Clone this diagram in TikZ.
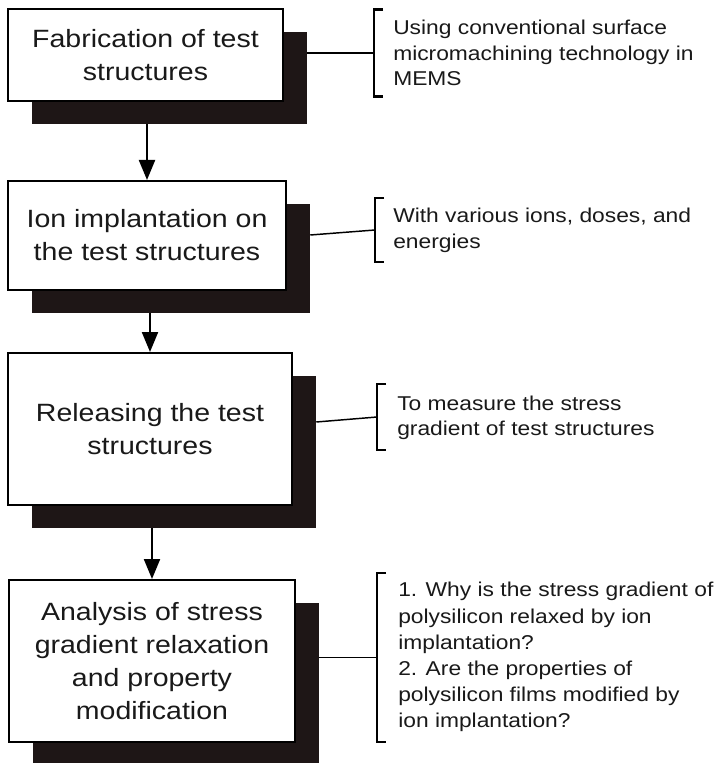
\documentclass[tikz,border=0pt]{standalone}
\usepackage{fontspec}
\setmainfont[FakeStretch=1.14]{Liberation Sans}
\usetikzlibrary{arrows.meta,calc}
\definecolor{shade}{RGB}{30,22,22}
\definecolor{ink}{RGB}{25,25,25}
\begin{document}
\begin{tikzpicture}[x=0.75pt,y=-0.75pt,
  boxnode/.style={draw=black,line width=1.5pt,fill=white,align=center,inner sep=0pt,text=ink,font=\fontsize{18.75}{24.75}\selectfont},
  shadownode/.style={fill=shade,draw=none,inner sep=0pt},
  sz/.style 2 args={minimum width=#1,minimum height=#2},
  note/.style={anchor=west,align=left,inner sep=0pt,text=ink,font=\fontsize{15}{19.1}\selectfont},
  arr/.style={line width=1.6pt,-{Triangle[width=12pt,length=15pt]}},
  brk/.style={line width=1.6pt},
  link/.style={line width=1.1pt}]
\useasboundingbox[fill=white] (0,0) rectangle (717,763);

% shadows
\node[shadownode,sz={206.25pt}{69pt}] (s1) at (169.5,78) {};
\node[shadownode,sz={208.5pt}{81.75pt}] (s2) at (171,258.5) {};
\node[shadownode,sz={213pt}{114pt}] (s3) at (174,452) {};
\node[shadownode,sz={214.5pt}{121.5pt}] (s4) at (176,684) {};

% boxes
\node[boxnode,sz={206.25pt}{69pt}] (b1) at (145.5,55) {Fabrication of test\\structures};
\node[boxnode,sz={208.5pt}{81.75pt}] (b2) at (147,235.5) {Ion implantation on\\the test structures};
\node[boxnode,sz={213pt}{114pt}] (b3) at (150,429) {Releasing the test\\structures};
\node[boxnode,sz={214.5pt}{121.5pt}] (b4) at (152,661) {Analysis of stress\\gradient relaxation\\and property\\modification};

% arrows
\draw[arr] (b2.north |- s1.south) -- (b2.north);
\draw[arr] (b3.north |- s2.south) -- (b3.north);
\draw[arr] (b4.north |- s3.south) -- (b4.north);

% notes
\coordinate (k1) at (374,53);
\node[note] (t1) at (393,53) {Using conventional surface\\micromachining technology in\\MEMS};
\draw[brk] ($(k1)+(9,-43.5)$) -- ++(-9,0) -- ++(0,87) -- ++(9,0);
\draw[link] (s1.east |- k1) -- (k1);

\coordinate (k2) at (375,230);
\node[note] (t2) at (393,230.3) {With various ions, doses, and\\energies};
\draw[brk] ($(k2)+(9,-32)$) -- ++(-9,0) -- ++(0,64) -- ++(9,0);
\draw[link] ($(s2.east |- k2)+(0,5)$) -- (k2);

\coordinate (k3) at (377,417);
\node[note] (t3) at (397,418) {To measure the stress\\gradient of test structures};
\draw[brk] ($(k3)+(9,-33)$) -- ++(-9,0) -- ++(0,66) -- ++(9,0);
\draw[link] ($(s3.east |- k3)+(0,5)$) -- (k3);

\coordinate (k4) at (377,657.5);
\node[note,font=\fontsize{15}{19.65}\selectfont] (t4) at (398,657.3) {1. Why is the stress gradient of\\polysilicon relaxed by ion\\implantation?\\2. Are the properties of\\polysilicon films modified by\\ion implantation?};
\draw[brk] ($(k4)+(9,-84.5)$) -- ++(-9,0) -- ++(0,169) -- ++(9,0);
\draw[link] (s4.east |- k4) -- (k4);
\end{tikzpicture}
\end{document}
